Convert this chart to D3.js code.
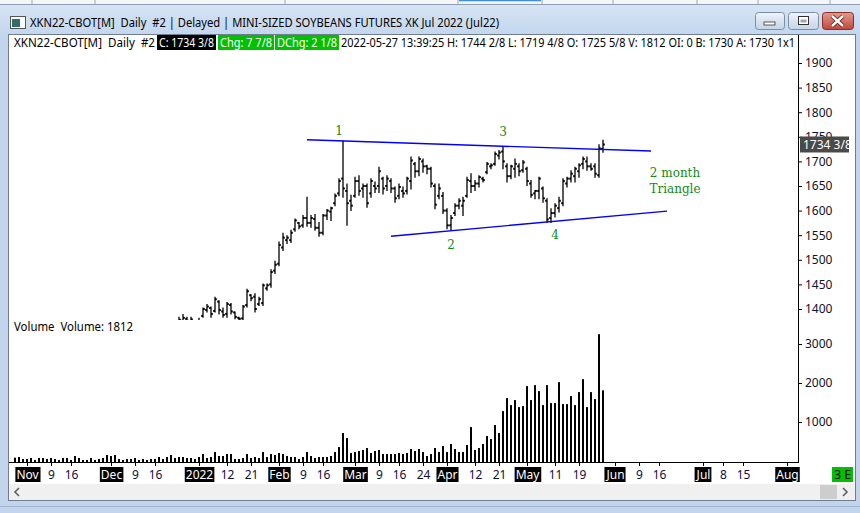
<!DOCTYPE html>
<html>
<head>
<meta charset="utf-8">
<script src="https://cdn.jsdelivr.net/npm/d3@7"></script>
<style>
  body { margin: 0; background: #fff; }
  svg { display: block; }
  text { font-family: "Noto Sans", "Liberation Sans", sans-serif; white-space: pre; }
</style>
</head>
<body>
<div id="chart"></div>
<script>
// exchange holidays inside the traded period (future days are plain weekdays)
var holidays = ["2021-11-25", "2021-12-24", "2022-01-17", "2022-02-21", "2022-04-15"];
var calStart = "2021-10-27",
  calEnd = "2022-08-04";

// daily volume, first value is 2021-10-27
var volStart = "2021-10-27";
var volume = [85, 102, 51, 51, 77, 26, 77, 77, 51, 77,
  51, 26, 77, 77, 26, 128, 77, 26, 26, 77,
  26, 51, 77, 154, 128, 154, 51, 26, 51, 51,
  77, 26, 51, 26, 51, 51, 102, 51, 102, 154,
  77, 102, 102, 77, 77, 51, 102, 179, 77, 102,
  230, 128, 128, 179, 179, 51, 51, 77, 179, 77,
  102, 77, 230, 102, 179, 154, 205, 179, 128, 102,
  102, 51, 102, 230, 128, 77, 102, 102, 102, 128,
  230, 358, 717, 589, 205, 230, 256, 282, 333, 205,
  256, 282, 179, 179, 179, 179, 205, 179, 205, 307,
  256, 307, 230, 128, 179, 333, 230, 384, 230, 435,
  307, 230, 230, 410, 870, 282, 333, 435, 640, 563,
  922, 717, 1280, 1613, 1434, 1562, 1382, 1408, 1920, 1562,
  1946, 1792, 1434, 1946, 1485, 1485, 2022, 1459, 1459, 1664,
  1434, 1766, 2099, 1382, 1766, 1587, 3251, 1812];

// daily OHLC, first value is 2021-12-27 (earlier bars sit below the visible range)
var priceStart = "2021-12-27";
var priceOpen = [1372, 1376, 1380, 1375, 1370, 1368, 1386, 1398, 1402, 1396,
  1415, 1395, 1390, 1408, 1393, 1382, 1381, 1408, 1428, 1425,
  1410, 1412, 1442, 1450, 1478, 1492, 1525, 1540, 1540, 1562,
  1575, 1570, 1585, 1575, 1583, 1565, 1555, 1590, 1598, 1615,
  1635, 1665, 1640, 1620, 1630, 1660, 1645, 1650, 1635, 1650,
  1650, 1665, 1650, 1660, 1645, 1630, 1640, 1640, 1660, 1695,
  1680, 1700, 1690, 1685, 1650, 1630, 1630, 1600, 1570, 1595,
  1610, 1610, 1630, 1660, 1650, 1655, 1665, 1678, 1690, 1695,
  1712, 1720, 1690, 1670, 1685, 1690, 1682, 1685, 1655, 1635,
  1640, 1645, 1620, 1585, 1595, 1605, 1615, 1655, 1665, 1670,
  1680, 1695, 1700, 1690, 1690, 1672, 1725.625];
var priceHigh = [1384, 1390, 1384, 1384, 1375, 1382, 1403, 1410, 1405, 1425,
  1418, 1403, 1414, 1412, 1395, 1384, 1408, 1441, 1430, 1432,
  1425, 1452, 1452, 1481, 1498, 1537, 1555, 1550, 1561, 1584,
  1577, 1591, 1628, 1591, 1593, 1577, 1593, 1603, 1608, 1635,
  1666, 1742, 1655, 1632, 1669, 1672, 1655, 1655, 1666, 1659,
  1689, 1669, 1672, 1666, 1649, 1655, 1649, 1669, 1710, 1699,
  1710, 1706, 1693, 1689, 1655, 1655, 1638, 1605, 1591, 1615,
  1625, 1628, 1669, 1676, 1662, 1672, 1669, 1699, 1696, 1720,
  1723, 1730, 1696, 1693, 1706, 1696, 1703, 1689, 1662, 1642,
  1669, 1649, 1625, 1605, 1615, 1628, 1666, 1669, 1682, 1689,
  1696, 1710, 1710, 1696, 1696, 1735, 1744.25];
var priceLow = [1365, 1368, 1366, 1367, 1360, 1368, 1384, 1395, 1384, 1395,
  1391, 1384, 1384, 1391, 1381, 1379, 1379, 1405, 1418, 1395,
  1408, 1408, 1439, 1445, 1473, 1489, 1520, 1534, 1536, 1559,
  1564, 1567, 1569, 1567, 1561, 1549, 1552, 1583, 1581, 1611,
  1631, 1628, 1571, 1601, 1628, 1632, 1628, 1608, 1628, 1638,
  1638, 1635, 1642, 1638, 1618, 1625, 1628, 1635, 1645, 1669,
  1672, 1679, 1676, 1649, 1605, 1625, 1595, 1564, 1561, 1591,
  1605, 1591, 1628, 1638, 1642, 1649, 1659, 1676, 1686, 1693,
  1706, 1686, 1659, 1666, 1669, 1672, 1679, 1652, 1628, 1625,
  1625, 1618, 1577, 1577, 1588, 1598, 1611, 1649, 1659, 1659,
  1669, 1686, 1683, 1683, 1669, 1669, 1719.5];
var priceClose = [1378, 1382, 1376, 1379, 1365, 1375, 1400, 1405, 1390, 1420,
  1398, 1388, 1410, 1395, 1384, 1380, 1405, 1436, 1422, 1400,
  1420, 1448, 1448, 1475, 1490, 1530, 1545, 1545, 1555, 1580,
  1568, 1585, 1575, 1585, 1565, 1555, 1590, 1600, 1605, 1630,
  1660, 1645, 1615, 1610, 1660, 1640, 1650, 1615, 1660, 1645,
  1680, 1645, 1665, 1645, 1625, 1648, 1635, 1665, 1702, 1680,
  1705, 1690, 1685, 1655, 1612, 1645, 1600, 1570, 1585, 1610,
  1620, 1620, 1662, 1650, 1655, 1668, 1662, 1695, 1692, 1715,
  1718, 1700, 1670, 1690, 1695, 1680, 1698, 1660, 1632, 1640,
  1665, 1625, 1582, 1595, 1610, 1620, 1660, 1665, 1675, 1685,
  1692, 1705, 1690, 1685, 1675, 1726.5, 1734.375];

var lastPriceLabel = "1734 3/8";
var priceTicks = [1400, 1450, 1500, 1550, 1600, 1650, 1700, 1750, 1800, 1850, 1900];
var volTicks = [1000, 2000, 3000];

var monthTickDates = ["2021-11-01", "2021-12-01", "2022-01-03", "2022-02-01", "2022-03-01",
  "2022-04-01", "2022-05-02", "2022-06-01", "2022-07-01", "2022-08-01"];
var monthTickLabels = ["Nov", "Dec", "2022", "Feb", "Mar", "Apr", "May", "Jun", "Jul", "Aug"];
var dayTickDates = ["2021-11-09", "2021-11-16", "2021-12-09", "2021-12-16", "2022-01-12",
  "2022-01-21", "2022-02-09", "2022-02-16", "2022-03-09", "2022-03-16", "2022-03-24",
  "2022-04-12", "2022-04-21", "2022-05-11", "2022-05-19", "2022-06-09", "2022-06-16",
  "2022-07-08", "2022-07-15"];
var dayTickLabels = ["9", "16", "9", "16", "12", "21", "9", "16", "9", "16", "24",
  "12", "21", "11", "19", "9", "16", "8", "15"];

// triangle trend lines: [start, end]
var upperLineDates = ["2022-02-10", "2022-06-14"];
var upperLinePrices = [1744, 1721];
var lowerLineDates = ["2022-03-14", "2022-06-20"];
var lowerLinePrices = [1548, 1599];

// drawn notes
var noteTexts = ["1", "3", "2", "4", "2 month", "Triangle"];
var noteDates = ["2022-02-23", "2022-04-22", "2022-04-04", "2022-05-11", "2022-06-22", "2022-06-22"];
var notePrices = [1762, 1760, 1530, 1550, 1676, 1644];

var titleText = "XKN22-CBOT[M]  Daily  #2 | Delayed | MINI-SIZED SOYBEANS FUTURES XK Jul 2022 (Jul22)";
var headLead = "XKN22-CBOT[M]  Daily  #2";
var headBoxes = ["C: 1734 3/8", "Chg: 7 7/8", "DChg: 2 1/8"];
var headTail = "2022-05-27 13:39:25 H: 1744 2/8 L: 1719 4/8 O: 1725 5/8 V: 1812 OI: 0 B: 1730 A: 1730 1x1";
var volumeLabel = "Volume  Volume: 1812";

// ---------------------------------------------------------------
var W = 860,
  H = 513;
var axisX = 798,
  axisY = 462;

var parse = d3.timeParse("%Y-%m-%d"),
  fmt = d3.timeFormat("%Y-%m-%d");

// trading calendar (weekdays minus holidays)
var days = d3.timeDay
  .range(parse(calStart), parse(calEnd))
  .filter(function (d) {
    return d.getDay() > 0 && d.getDay() < 6;
  })
  .map(fmt)
  .filter(function (s) {
    return holidays.indexOf(s) < 0;
  });

var x = d3.scalePoint().domain(days).range([15, 15 + 4 * (days.length - 1)]);
var y = d3.scaleLinear().domain([1400, 1900]).range([309, 63]);
var yVol = d3.scaleLinear().domain([0, 3000]).range([461, 344]);

var v0 = days.indexOf(volStart),
  p0 = days.indexOf(priceStart);
var volData = volume.map(function (v, i) {
  return { date: days[v0 + i], v: v };
});
var bars = priceOpen.map(function (o, i) {
  return { date: days[p0 + i], o: o, h: priceHigh[i], l: priceLow[i], c: priceClose[i] };
});

var svg = d3.select("#chart").append("svg").attr("width", W).attr("height", H);
var defs = svg.append("defs");

var g1 = defs.append("linearGradient").attr("id", "titleGrad").attr("x1", 0).attr("y1", 0).attr("x2", 0).attr("y2", 1);
g1.append("stop").attr("offset", "0%").attr("stop-color", "#d9e6f5");
g1.append("stop").attr("offset", "100%").attr("stop-color", "#c3d6ee");
var g2 = defs.append("linearGradient").attr("id", "btnGrad").attr("x1", 0).attr("y1", 0).attr("x2", 0).attr("y2", 1);
g2.append("stop").attr("offset", "0%").attr("stop-color", "#eef3f9");
g2.append("stop").attr("offset", "100%").attr("stop-color", "#c5d4e6");
var g3 = defs.append("linearGradient").attr("id", "closeGrad").attr("x1", 0).attr("y1", 0).attr("x2", 0).attr("y2", 1);
g3.append("stop").attr("offset", "0%").attr("stop-color", "#e29a8f");
g3.append("stop").attr("offset", "100%").attr("stop-color", "#c3463b");

defs.append("clipPath").attr("id", "priceClip")
  .append("rect").attr("x", 10).attr("y", 51).attr("width", axisX - 10).attr("height", 269);

// window frame
svg.append("rect").attr("width", W).attr("height", H).attr("fill", "#c2d5ec");
svg.append("rect").attr("width", W).attr("height", 36).attr("fill", "url(#titleGrad)");
svg.append("rect").attr("width", W).attr("height", 4).attr("fill", "#f4f6f9");
[32, 95, 285, 458, 542, 613, 697, 758, 830].forEach(function (sx) {
  svg.append("line").attr("x1", sx).attr("x2", sx).attr("y1", 0).attr("y2", 4)
    .attr("stroke", "#a0a8b4");
});
svg.append("line").attr("x1", 459).attr("x2", 541).attr("y1", 0.5).attr("y2", 0.5)
  .attr("stroke", "#3d8ee0").attr("stroke-width", 1.5);
svg.append("line").attr("x1", 0).attr("x2", W).attr("y1", 4.5).attr("y2", 4.5).attr("stroke", "#8d9db2");

// title icon + text
svg.append("rect").attr("x", 10.5).attr("y", 16.5).attr("width", 15).attr("height", 12)
  .attr("fill", "#fff").attr("stroke", "#555");
svg.append("rect").attr("x", 12).attr("y", 19).attr("width", 8).attr("height", 8).attr("fill", "#2f6e6a");
svg.append("text").attr("x", 30).attr("y", 27).attr("font-size", 12.5).attr("fill", "#000")
  .text(titleText).attr("textLength", 469).attr("lengthAdjust", "spacingAndGlyphs");

// caption buttons
function capButton(bx, bw, fill, stroke) {
  return svg.append("rect").attr("x", bx + 0.5).attr("y", 12.5).attr("width", bw).attr("height", 17)
    .attr("rx", 3).attr("fill", fill).attr("stroke", stroke);
}
capButton(755, 29, "url(#btnGrad)", "#7b8ea8");
capButton(788, 30, "url(#btnGrad)", "#7b8ea8");
capButton(822, 31, "url(#closeGrad)", "#8a2e26");
svg.append("rect").attr("x", 764).attr("y", 22).attr("width", 11).attr("height", 3)
  .attr("fill", "#fff").attr("stroke", "#333").attr("stroke-width", 0.8);
svg.append("rect").attr("x", 798.5).attr("y", 16.5).attr("width", 10).attr("height", 8)
  .attr("fill", "#fff").attr("stroke", "#333");
svg.append("rect").attr("x", 800.5).attr("y", 19.5).attr("width", 6).attr("height", 3)
  .attr("fill", "#9aa8bb");
svg.append("path").attr("d", "M832,16 L843,26 M843,16 L832,26")
  .attr("stroke", "#5b1a14").attr("stroke-width", 4);
svg.append("path").attr("d", "M832,16 L843,26 M843,16 L832,26")
  .attr("stroke", "#fff").attr("stroke-width", 2.4);

// client area
svg.append("rect").attr("x", 8.5).attr("y", 34.5).attr("width", 847).attr("height", 466)
  .attr("fill", "#fff").attr("stroke", "#6f7d90");

// header line
var head = svg.append("g").attr("font-size", 12);
head.append("text").attr("x", 14).attr("y", 47).text(headLead)
  .attr("textLength", 141).attr("lengthAdjust", "spacingAndGlyphs");
var boxPos = [[157, 59, "#000"], [218, 56, "#00c000"], [275, 64, "#00c000"]];
headBoxes.forEach(function (t, i) {
  head.append("rect").attr("x", boxPos[i][0]).attr("y", 35).attr("width", boxPos[i][1]).attr("height", 15)
    .attr("fill", boxPos[i][2]);
  head.append("text").attr("x", boxPos[i][0] + 2).attr("y", 47).attr("fill", "#fff").text(t)
    .attr("textLength", boxPos[i][1] - 4).attr("lengthAdjust", "spacingAndGlyphs");
});
head.append("text").attr("x", 341).attr("y", 47).text(headTail)
  .attr("textLength", 454).attr("lengthAdjust", "spacingAndGlyphs");

// price bars
var pg = svg.append("g").attr("clip-path", "url(#priceClip)");
var bar = pg.selectAll("g.bar").data(bars).join("g").attr("class", "bar");
bar.append("line")
  .attr("x1", function (d) { return x(d.date); })
  .attr("x2", function (d) { return x(d.date); })
  .attr("y1", function (d) { return y(d.h); })
  .attr("y2", function (d) { return y(d.l) + 1; })
  .attr("stroke", "#000").attr("stroke-width", 1.3);
bar.append("rect")
  .attr("x", function (d) { return x(d.date) - 1.8; })
  .attr("y", function (d) { return y(d.o) - 1; })
  .attr("width", 1.8).attr("height", 2).attr("fill", "#000");
bar.append("rect")
  .attr("x", function (d) { return x(d.date); })
  .attr("y", function (d) { return y(d.c) - 1; })
  .attr("width", 1.8).attr("height", 2).attr("fill", "#000");

// triangle lines
var tri = d3.line()
  .x(function (d) { return x(d[0]); })
  .y(function (d) { return y(d[1]); });
svg.append("path").datum(d3.zip(upperLineDates, upperLinePrices)).attr("d", tri)
  .attr("fill", "none").attr("stroke", "#0000ff").attr("stroke-width", 1.4);
svg.append("path").datum(d3.zip(lowerLineDates, lowerLinePrices)).attr("d", tri)
  .attr("fill", "none").attr("stroke", "#0000ff").attr("stroke-width", 1.4);

// notes
svg.selectAll("text.note").data(noteTexts).join("text").attr("class", "note")
  .attr("x", function (d, i) { return x(noteDates[i]); })
  .attr("y", function (d, i) { return y(notePrices[i]); })
  .attr("text-anchor", "middle").attr("dominant-baseline", "central")
  .style("font-family", "'DejaVu Serif', 'Liberation Serif', serif")
  .attr("font-size", 12).attr("fill", "#138a13")
  .text(function (d) { return d; });

// volume
svg.append("text").attr("x", 14).attr("y", 331).attr("font-size", 12).text(volumeLabel)
  .attr("textLength", 119).attr("lengthAdjust", "spacingAndGlyphs");
svg.selectAll("rect.vol").data(volData).join("rect").attr("class", "vol")
  .attr("x", function (d) { return x(d.date) - 1; })
  .attr("width", 2)
  .attr("y", function (d) { return yVol(d.v); })
  .attr("height", function (d) { return axisY - yVol(d.v); })
  .attr("fill", "#000");

// right axes
function styleAxis(g) {
  g.select(".domain").remove();
  g.selectAll(".tick line").attr("stroke", "#000");
  g.selectAll(".tick text").attr("fill", "#101028").attr("font-size", 12)
    .style("font-family", "'Noto Sans', sans-serif");
}
svg.append("g").attr("transform", "translate(" + axisX + ",0)")
  .call(d3.axisRight(y).tickValues(priceTicks).tickSize(4).tickPadding(3).tickFormat(d3.format("d")))
  .call(styleAxis);
svg.append("g").attr("transform", "translate(" + axisX + ",0)")
  .call(d3.axisRight(yVol).tickValues(volTicks).tickSize(4).tickPadding(3).tickFormat(d3.format("d")))
  .call(styleAxis);
svg.append("line").attr("x1", axisX + 0.5).attr("x2", axisX + 0.5).attr("y1", 35).attr("y2", axisY + 1)
  .attr("stroke", "#000");

// last price marker (sits over the 1750 label, as in the platform)
svg.append("rect").attr("x", 800).attr("y", y(1734.375) - 8).attr("width", 49).attr("height", 16)
  .attr("fill", "#4a4a4a");
svg.append("text").attr("x", 803).attr("y", y(1734.375)).attr("dominant-baseline", "central")
  .attr("font-size", 12).attr("fill", "#fff").text(lastPriceLabel);

// date axis
var tickDates = monthTickDates.concat(dayTickDates);
var tickLabels = monthTickLabels.concat(dayTickLabels);
var xa = svg.append("g").attr("transform", "translate(0," + axisY + ")")
  .call(d3.axisBottom(x).tickValues(tickDates).tickSize(4).tickPadding(4)
    .tickFormat(function (d) { return tickLabels[tickDates.indexOf(d)]; }));
xa.select(".domain").remove();
xa.selectAll(".tick line").attr("stroke", "#000");
xa.selectAll(".tick text").attr("font-size", 12).attr("fill", "#101040")
  .style("font-family", "'Noto Sans', sans-serif");
xa.selectAll(".tick").filter(function (d) { return monthTickDates.indexOf(d) >= 0; })
  .each(function () {
    var t = d3.select(this).select("text").attr("fill", "#fff");
    var bb = t.node().getBBox();
    d3.select(this).insert("rect", "text").attr("x", bb.x - 1).attr("y", 5)
      .attr("width", bb.width + 2).attr("height", 15).attr("fill", "#000");
  });
svg.append("line").attr("x1", 9).attr("x2", axisX + 1).attr("y1", axisY + 0.5).attr("y2", axisY + 0.5)
  .attr("stroke", "#000");

// "3 E" status box
svg.append("rect").attr("x", 832).attr("y", 467).attr("width", 21).attr("height", 15).attr("fill", "#00c000");
svg.append("text").attr("x", 842.5).attr("y", 479).attr("text-anchor", "middle").attr("font-size", 12)
  .text("3 E");

// scroll bar
svg.append("rect").attr("x", 9).attr("y", 484).attr("width", 846).attr("height", 16).attr("fill", "#f0f0f0");
svg.append("rect").attr("x", 820).attr("y", 485).attr("width", 17).attr("height", 14).attr("fill", "#cdcdcd");
svg.append("path").attr("d", "M19,488 L15,492 L19,496").attr("fill", "none").attr("stroke", "#606060").attr("stroke-width", 1.6);
svg.append("path").attr("d", "M843,488 L847,492 L843,496").attr("fill", "none").attr("stroke", "#606060").attr("stroke-width", 1.6);
svg.append("line").attr("x1", 0).attr("x2", W).attr("y1", 506.5).attr("y2", 506.5).attr("stroke", "#9fb3cc");
</script>
</body>
</html>
